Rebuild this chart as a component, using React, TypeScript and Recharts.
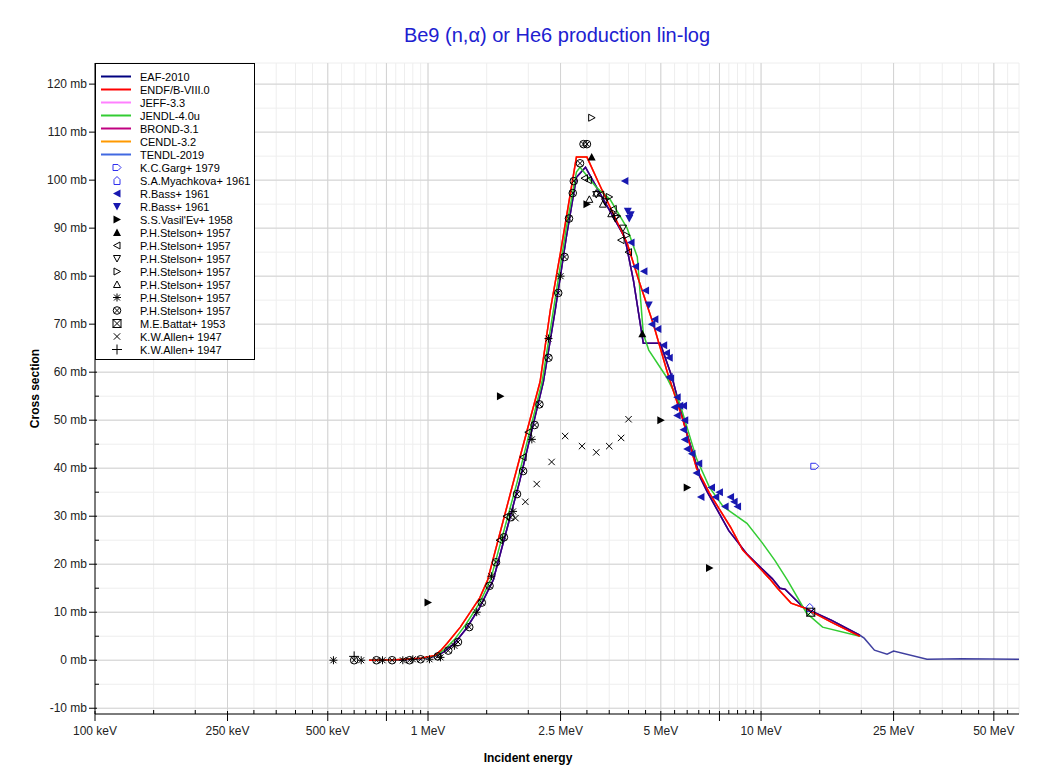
import React from 'react';
import {
    ComposedChart,
    Line,
    Scatter,
    XAxis,
    YAxis,
    CartesianGrid,
    ReferenceLine
} from 'recharts';

type Pt = [number, number];

// evaluations, [incident energy MeV, cross section mb]
const eafPts: Pt[] = [
    [0.665, 0], [0.8, 0.05], [0.95, 0.3], [1.05, 0.8], [1.12, 1.8], [1.2, 3.5], [1.3, 6.5], [1.43, 11],
    [1.57, 16.7], [1.88, 37], [2.22, 58], [2.41, 73], [2.6, 88], [2.79, 100.6], [2.97, 102.7], [3.3, 97],
    [3.9, 88], [4.14, 79], [4.43, 66], [4.98, 66], [5.4, 59], [6.0, 47], [6.57, 38], [6.9, 35], [8.0, 27],
    [9.1, 22], [10.8, 17], [11.4, 15], [11.8, 14.8], [13.4, 11], [16.3, 8.3], [19.8, 5.2], [20.4, 4.6],
    [21.9, 2.1], [23.9, 1.25], [25, 1.9], [31.5, 0.2], [40, 0.3], [59.5, 0.2]
];
const endfPts: Pt[] = [
    [0.665, 0], [0.8, 0.1], [0.95, 0.4], [1.05, 1.0], [1.09, 2.0], [1.14, 3.5], [1.25, 6.9], [1.43, 13],
    [1.51, 16.7], [1.81, 37.5], [2.17, 58], [2.33, 73], [2.5, 85], [2.79, 104.8], [3.0, 104.8], [3.25, 99.5],
    [3.52, 94.4], [3.96, 86.9], [4.3, 79], [4.75, 70], [5.23, 60], [5.83, 50], [6.4, 40], [7.0, 34.8],
    [8.1, 27.7], [8.8, 23], [10.6, 17], [11.2, 15], [12.3, 11.9], [13.4, 11], [16.3, 7.9], [19.8, 5.0]
];
const jendlPts: Pt[] = [
    [0.665, 0], [0.8, 0.08], [0.95, 0.35], [1.05, 0.9], [1.12, 2.2], [1.2, 4.3], [1.3, 7.5], [1.43, 12],
    [1.54, 16.7], [1.85, 37], [2.2, 58], [2.38, 73], [2.6, 90], [2.79, 101.7], [2.86, 102.7], [3.2, 98.5],
    [3.52, 96], [3.96, 90], [4.25, 84], [4.43, 68], [4.6, 64.6], [5.2, 59], [5.7, 53.5], [6.4, 42], [7.0, 36],
    [7.7, 32], [9.07, 28.5], [10.1, 24.4], [11.0, 20.8], [12.0, 16.7], [13.7, 9.8], [15.3, 6.9], [19.8, 5.0]
];
// JEFF-3.3 / CENDL-3.2 lie under ENDF/B-VIII.0, BROND-3.1 / TENDL-2019 under EAF-2010
const jeffPts = endfPts;
const cendlPts = endfPts;
const brondPts = eafPts.filter(([e]) => e <= 20);
const tendlPts = eafPts.filter(([e]) => e <= 20);

// measurements
const gargPts: Pt[] = [[14.5, 40.4]];
const myachkovaPts: Pt[] = [[14.0, 11.0]];
const bassLeftPts: Pt[] = [
    [3.9, 99.8], [4.07, 87], [4.2, 82], [4.45, 81], [4.5, 77], [4.7, 70], [4.8, 71], [4.9, 69], [5.1, 65.6],
    [5.2, 64], [5.3, 63], [5.3, 59], [5.35, 58.7], [5.5, 52.7], [5.6, 54.8], [5.6, 51], [5.7, 53], [5.85, 53],
    [5.9, 50], [5.85, 48], [5.9, 46], [6.0, 44], [6.2, 43], [6.4, 39], [6.5, 41], [6.6, 34], [7.1, 36],
    [7.3, 34], [7.5, 35], [7.8, 32], [8.1, 34], [8.3, 33], [8.5, 32]
];
const bassDownPts: Pt[] = [[3.98, 93.5], [4.02, 92], [4.06, 92.8], [4.6, 74]];
const vasilevPts: Pt[] = [[1.0, 12], [1.65, 55], [3.0, 95], [5.0, 50], [6.0, 36], [7.0, 19.2]];
const stelsonUpFillPts: Pt[] = [[3.1, 104.8], [4.4, 68]];
const stelsonLeftPts: Pt[] = [
    [1.64, 25], [1.72, 30], [1.93, 42.3], [2.0, 47.5], [2.95, 100.4], [3.03, 100], [3.3, 97], [3.6, 94],
    [3.8, 87.5], [4.0, 85]
];
const stelsonDownPts: Pt[] = [[3.2, 97], [3.4, 95.5], [3.65, 92], [3.85, 90]];
const stelsonRightPts: Pt[] = [[3.1, 113], [3.5, 96.5], [3.7, 92.5], [3.95, 88.5]];
const stelsonUpPts: Pt[] = [[3.05, 96], [3.2, 97.3], [3.35, 95], [3.55, 93]];
const stelsonStarPts: Pt[] = [
    [0.52, 0], [0.63, 0], [0.73, 0], [0.84, 0], [0.9, 0.2], [1.01, 0.2], [1.09, 0.6], [1.2, 3], [1.4, 10],
    [1.55, 17.5], [1.8, 31], [2.05, 46], [2.3, 67], [2.5, 80]
];
const stelsonCircPts: Pt[] = [
    [0.6, 0], [0.7, 0], [0.78, 0], [0.88, 0], [0.95, 0.2], [1.07, 0.8], [1.15, 2], [1.23, 3.8], [1.33, 6.9],
    [1.45, 12], [1.53, 15.5], [1.6, 20.4], [1.69, 25.6], [1.77, 29.8], [1.85, 34.6], [1.93, 39.4], [2.09, 49],
    [2.16, 53.3], [2.3, 63], [2.46, 76.5], [2.57, 84], [2.65, 92], [2.72, 97.3], [2.74, 99.8], [2.86, 103.5],
    [2.93, 107.5], [3.0, 107.5]
];
const battatPts: Pt[] = [[14.1, 10]];
const allenXPts: Pt[] = [
    [1.83, 29.6], [1.96, 33], [2.12, 36.7], [2.35, 41.3], [2.58, 46.7], [2.9, 44.6], [3.2, 43.3], [3.5, 44.6],
    [3.8, 46.3], [4.0, 50.2]
];
const allenPlusPts: Pt[] = [[0.6, 0.8]];

// axes
const X_DOMAIN = [0.1, 59.5];
const Y_DOMAIN = [-11.2, 124.4];
const X_TICKS = [
    0.1, 0.15, 0.2, 0.25, 0.3, 0.35, 0.4, 0.45, 0.5, 0.55, 0.6, 0.65, 0.7, 0.75, 0.8, 0.85, 0.9, 0.95,
    1, 1.5, 2, 2.5, 3, 3.5, 4, 4.5, 5, 5.5, 6, 6.5, 7, 7.5, 8, 8.5, 9, 9.5, 10, 15, 20, 25, 30, 35, 40, 45, 50, 55
];
const X_MAJOR = [0.1, 0.25, 0.5, 0.75, 1, 2.5, 5, 7.5, 10, 25, 50];
const X_LABEL_VALUES = [0.1, 0.25, 0.5, 1, 2.5, 5, 10, 25, 50];
const X_LABEL_TEXTS = ['100 keV', '250 keV', '500 keV', '1 MeV', '2.5 MeV', '5 MeV', '10 MeV', '25 MeV', '50 MeV'];
const Y_TICKS = [-10, -5, 0, 5, 10, 15, 20, 25, 30, 35, 40, 45, 50, 55, 60, 65, 70, 75, 80, 85, 90, 95, 100, 105, 110, 115, 120];
const Y_MAJOR = [-10, 0, 10, 20, 30, 40, 50, 60, 70, 80, 90, 100, 110, 120];

const toRows = (pts: Pt[]) => pts.map(([e, xs]) => ({ e, xs }));

const evalSeries = [
    { name: 'EAF-2010', color: '#000080', pts: eafPts },
    { name: 'ENDF/B-VIII.0', color: '#ff0000', pts: endfPts },
    { name: 'JEFF-3.3', color: '#ff80ff', pts: jeffPts },
    { name: 'JENDL-4.0u', color: '#33cc33', pts: jendlPts },
    { name: 'BROND-3.1', color: '#c00080', pts: brondPts },
    { name: 'CENDL-3.2', color: '#ff9900', pts: cendlPts },
    { name: 'TENDL-2019', color: '#4169e1', pts: tendlPts }
];
const drawOrder = ['JEFF-3.3', 'CENDL-3.2', 'TENDL-2019', 'BROND-3.1', 'EAF-2010', 'JENDL-4.0u', 'ENDF/B-VIII.0'];

const expSeries = [
    { name: 'K.C.Garg+ 1979', marker: 'tag', color: '#3030ee', pts: gargPts },
    { name: 'S.A.Myachkova+ 1961', marker: 'house', color: '#3030ee', pts: myachkovaPts },
    { name: 'R.Bass+ 1961', marker: 'leftFill', color: '#1818b0', pts: bassLeftPts },
    { name: 'R.Bass+ 1961', marker: 'downFill', color: '#1818b0', pts: bassDownPts },
    { name: "S.S.Vasil'Ev+ 1958", marker: 'rightFill', color: '#000', pts: vasilevPts },
    { name: 'P.H.Stelson+ 1957', marker: 'upFill', color: '#000', pts: stelsonUpFillPts },
    { name: 'P.H.Stelson+ 1957', marker: 'left', color: '#000', pts: stelsonLeftPts },
    { name: 'P.H.Stelson+ 1957', marker: 'down', color: '#000', pts: stelsonDownPts },
    { name: 'P.H.Stelson+ 1957', marker: 'right', color: '#000', pts: stelsonRightPts },
    { name: 'P.H.Stelson+ 1957', marker: 'up', color: '#000', pts: stelsonUpPts },
    { name: 'P.H.Stelson+ 1957', marker: 'star', color: '#000', pts: stelsonStarPts },
    { name: 'P.H.Stelson+ 1957', marker: 'circX', color: '#000', pts: stelsonCircPts },
    { name: 'M.E.Battat+ 1953', marker: 'boxX', color: '#000', pts: battatPts },
    { name: 'K.W.Allen+ 1947', marker: 'cross', color: '#000', pts: allenXPts },
    { name: 'K.W.Allen+ 1947', marker: 'plus', color: '#000', pts: allenPlusPts }
];

const drawMarker = (kind: string, cx: number, cy: number, color: string) => {
    const open = { fill: 'none', stroke: color, strokeWidth: 1 };
    switch (kind) {
        case 'tag':
            return <path d={`M${cx - 4},${cy - 3}H${cx + 1}L${cx + 4},${cy}L${cx + 1},${cy + 3}H${cx - 4}Z`} {...open} />;
        case 'house':
            return <path d={`M${cx - 3},${cy + 4}V${cy - 1}L${cx},${cy - 4}L${cx + 3},${cy - 1}V${cy + 4}Z`} {...open} />;
        case 'leftFill':
            return <path d={`M${cx - 4},${cy}L${cx + 3.5},${cy - 4}V${cy + 4}Z`} fill={color} />;
        case 'rightFill':
            return <path d={`M${cx + 4},${cy}L${cx - 3.5},${cy - 4}V${cy + 4}Z`} fill={color} />;
        case 'upFill':
            return <path d={`M${cx},${cy - 4}L${cx + 4},${cy + 3.5}H${cx - 4}Z`} fill={color} />;
        case 'downFill':
            return <path d={`M${cx},${cy + 4}L${cx + 4},${cy - 3.5}H${cx - 4}Z`} fill={color} />;
        case 'left':
            return <path d={`M${cx - 3.5},${cy}L${cx + 3},${cy - 3.5}V${cy + 3.5}Z`} {...open} />;
        case 'right':
            return <path d={`M${cx + 3.5},${cy}L${cx - 3},${cy - 3.5}V${cy + 3.5}Z`} {...open} />;
        case 'up':
            return <path d={`M${cx},${cy - 3.5}L${cx + 3.5},${cy + 3}H${cx - 3.5}Z`} {...open} />;
        case 'down':
            return <path d={`M${cx},${cy + 3.5}L${cx + 3.5},${cy - 3}H${cx - 3.5}Z`} {...open} />;
        case 'star':
            return (
                <path
                    d={`M${cx - 4},${cy}H${cx + 4}M${cx},${cy - 4}V${cy + 4}M${cx - 3},${cy - 3}L${cx + 3},${cy + 3}M${cx - 3},${cy + 3}L${cx + 3},${cy - 3}`}
                    {...open}
                />
            );
        case 'circX':
            return (
                <g {...open}>
                    <circle cx={cx} cy={cy} r={3.8} />
                    <path d={`M${cx - 2.7},${cy - 2.7}L${cx + 2.7},${cy + 2.7}M${cx - 2.7},${cy + 2.7}L${cx + 2.7},${cy - 2.7}`} />
                </g>
            );
        case 'boxX':
            return (
                <g {...open}>
                    <rect x={cx - 4} y={cy - 4} width={8} height={8} />
                    <path d={`M${cx - 4},${cy - 4}L${cx + 4},${cy + 4}M${cx - 4},${cy + 4}L${cx + 4},${cy - 4}`} />
                </g>
            );
        case 'cross':
            return <path d={`M${cx - 3.2},${cy - 3.2}L${cx + 3.2},${cy + 3.2}M${cx - 3.2},${cy + 3.2}L${cx + 3.2},${cy - 3.2}`} {...open} />;
        case 'plus':
            return <path d={`M${cx - 5},${cy}H${cx + 5}M${cx},${cy - 5}V${cy + 5}`} {...open} />;
        default:
            return <circle cx={cx} cy={cy} r={3} fill={color} />;
    }
};

const BottomTick = (props: any) => {
    const { x, y, payload } = props;
    const v = payload.value;
    const idx = X_LABEL_VALUES.indexOf(v);
    const major = X_MAJOR.includes(v);
    return (
        <g>
            <line x1={x} x2={x} y1={major ? y - 3 : y - 4} y2={major ? y + 7 : y} stroke="#000" />
            {idx >= 0 && (
                <text x={x} y={y + 21} textAnchor="middle" fontSize={12} fill="#222">
                    {X_LABEL_TEXTS[idx]}
                </text>
            )}
        </g>
    );
};

const TopTick = (props: any) => {
    const { x, y, payload } = props;
    const major = X_MAJOR.includes(payload.value);
    return <line x1={x} x2={x} y1={y} y2={y + (major ? 6 : 4)} stroke="#000" />;
};

const LeftTick = (props: any) => {
    const { x, y, payload } = props;
    const v = payload.value;
    const major = Y_MAJOR.includes(v);
    return (
        <g>
            <line x1={major ? x - 6 : x} x2={major ? x + 2 : x + 4} y1={y} y2={y} stroke="#000" />
            {major && (
                <text x={x - 8} y={y + 4} textAnchor="end" fontSize={12} fill="#222">
                    {`${v} mb`}
                </text>
            )}
        </g>
    );
};

const RightTick = (props: any) => {
    const { x, y, payload } = props;
    const major = Y_MAJOR.includes(payload.value);
    return <line x1={x - (major ? 6 : 4)} x2={x} y1={y} y2={y} stroke="#000" />;
};

const LegendBox = () => (
    <div
        style={{
            position: 'absolute',
            left: 95,
            top: 63,
            width: 160,
            height: 297,
            boxSizing: 'border-box',
            border: '1px solid #000',
            background: '#fff',
            paddingTop: 6
        }}
    >
        {evalSeries.map((s) => (
            <div key={s.name} style={{ height: 13, display: 'flex', alignItems: 'center', fontSize: 11 }}>
                <svg width={44} height={13}>
                    <line x1={5} x2={35} y1={6.5} y2={6.5} stroke={s.color} strokeWidth={2} />
                </svg>
                <span>{s.name}</span>
            </div>
        ))}
        {expSeries.map((s, i) => (
            <div key={`m${i}`} style={{ height: 13, display: 'flex', alignItems: 'center', fontSize: 11 }}>
                <svg width={44} height={13}>
                    {drawMarker(s.marker, 21, 6.5, s.color)}
                </svg>
                <span>{s.name}</span>
            </div>
        ))}
    </div>
);

const axisCommon = {
    type: 'number' as const,
    allowDataOverflow: true,
    interval: 0,
    tickSize: 0,
    tickMargin: 0,
    tickLine: false,
    axisLine: { stroke: '#000' }
};

const App: React.FC = () => {
    const seriesByName = Object.fromEntries(evalSeries.map((s) => [s.name, s]));

    return (
        <div
            style={{
                position: 'absolute',
                left: 0,
                top: 0,
                width: 1063,
                height: 774,
                background: '#fff',
                fontFamily: '"Liberation Sans", Arial, sans-serif',
                color: '#000'
            }}
        >
            <div
                style={{
                    position: 'absolute',
                    left: 95,
                    width: 924,
                    top: 22,
                    textAlign: 'center',
                    fontSize: 20,
                    lineHeight: '26px',
                    color: '#2020d0'
                }}
            >
                Be9 (n,α) or He6 production lin-log
            </div>
            <ComposedChart width={1063} height={774} margin={{ top: 63, right: 44, bottom: 0, left: 0 }}>
                <CartesianGrid stroke="#eeeeee" />
                {X_MAJOR.filter((v) => v > X_DOMAIN[0]).map((v) => (
                    <ReferenceLine key={`gx${v}`} x={v} stroke="#d2d2d2" />
                ))}
                {Y_MAJOR.map((v) => (
                    <ReferenceLine key={`gy${v}`} y={v} stroke="#d2d2d2" />
                ))}
                <XAxis
                    {...axisCommon}
                    dataKey="e"
                    scale="log"
                    domain={X_DOMAIN}
                    ticks={X_TICKS}
                    height={60}
                    tick={BottomTick}
                    label={{
                        value: 'Incident energy',
                        content: (p: any) => (
                            <text
                                x={p.viewBox.x + p.viewBox.width / 2 - 29}
                                y={p.viewBox.y + 48}
                                textAnchor="middle"
                                fontSize={12}
                                fontWeight="bold"
                                fill="#000"
                            >
                                Incident energy
                            </text>
                        )
                    }}
                />
                <XAxis
                    {...axisCommon}
                    xAxisId="top"
                    orientation="top"
                    mirror
                    height={0}
                    dataKey="e"
                    scale="log"
                    domain={X_DOMAIN}
                    ticks={X_TICKS}
                    tick={TopTick}
                />
                <YAxis
                    {...axisCommon}
                    dataKey="xs"
                    domain={Y_DOMAIN}
                    ticks={Y_TICKS}
                    width={95}
                    tick={LeftTick}
                    label={{
                        value: 'Cross section',
                        content: (p: any) => {
                            const cx = p.viewBox.x + 39;
                            const cy = p.viewBox.y + p.viewBox.height / 2;
                            return (
                                <text
                                    x={cx}
                                    y={cy}
                                    transform={`rotate(-90, ${cx}, ${cy})`}
                                    textAnchor="middle"
                                    fontSize={12}
                                    fontWeight="bold"
                                    fill="#000"
                                >
                                    Cross section
                                </text>
                            );
                        }
                    }}
                />
                <YAxis
                    {...axisCommon}
                    yAxisId="right"
                    orientation="right"
                    mirror
                    width={0}
                    domain={Y_DOMAIN}
                    ticks={Y_TICKS}
                    tick={RightTick}
                />
                {drawOrder.map((name) => {
                    const s = seriesByName[name];
                    return (
                        <Line
                            key={name}
                            data={toRows(s.pts)}
                            dataKey="xs"
                            type="linear"
                            stroke={s.color}
                            strokeWidth={1.5}
                            strokeOpacity={name === 'EAF-2010' ? 0.75 : 1}
                            dot={false}
                            activeDot={false}
                            isAnimationActive={false}
                        />
                    );
                })}
                {expSeries.map((s, i) => (
                    <Scatter
                        key={`exp${i}`}
                        data={toRows(s.pts)}
                        dataKey="xs"
                        shape={(p: any) => drawMarker(s.marker, p.cx, p.cy, s.color)}
                        isAnimationActive={false}
                    />
                ))}
            </ComposedChart>
            <LegendBox />
        </div>
    );
};

export default App;
